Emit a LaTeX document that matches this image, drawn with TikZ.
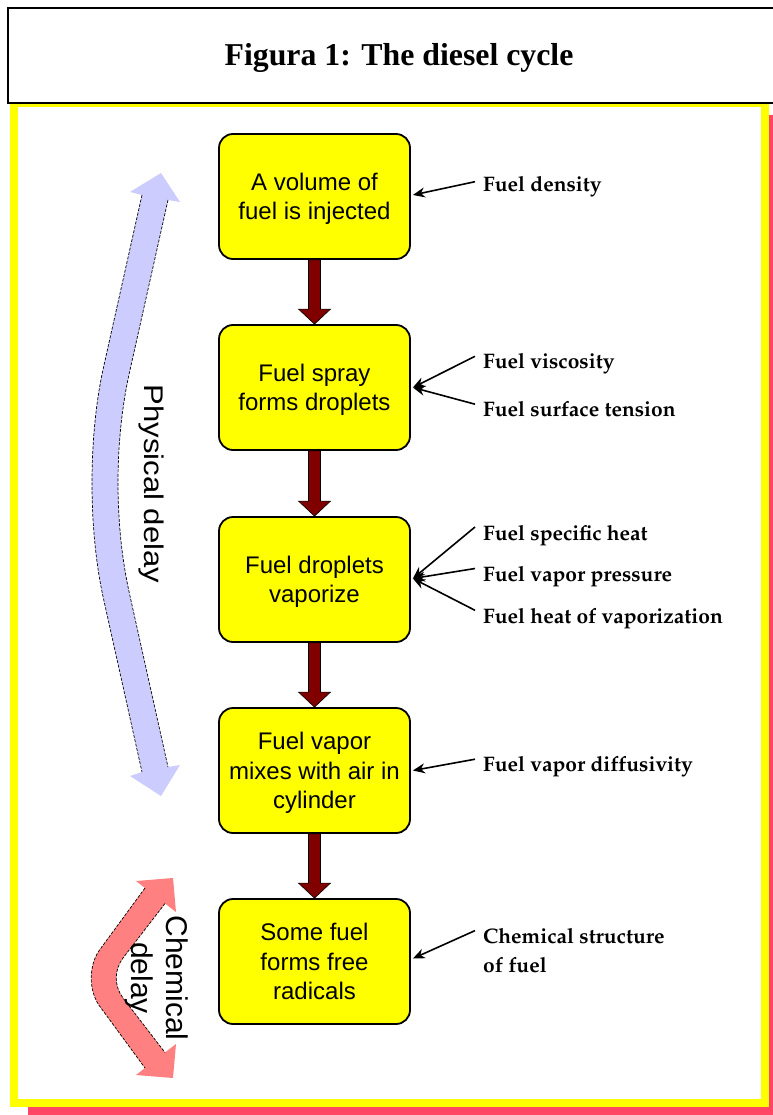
\documentclass[tikz,border=0pt]{standalone}
\usepackage[T1]{fontenc}
\usepackage{fontspec}
\usetikzlibrary{arrows.meta,calc}
\newfontfamily\titlefont{Liberation Serif}
\newfontfamily\boxfont{Liberation Sans}
\newcommand\lblfont{\fontencoding{T1}\fontfamily{ppl}\fontseries{b}\fontshape{n}\fontsize{21}{28.4}\selectfont}
\definecolor{boxyellow}{RGB}{255,255,0}
\definecolor{framered}{RGB}{255,70,100}
\definecolor{stepred}{RGB}{128,0,0}
\definecolor{physblue}{RGB}{204,204,255}
\definecolor{chempink}{RGB}{255,128,128}
\begin{document}
\begin{tikzpicture}[x=1pt,y=-1pt,
  stepbox/.style={draw=black, line width=1.8pt, fill=boxyellow, rounded corners=14pt,
    minimum width=191pt, minimum height=125pt, inner sep=0pt, align=center, text depth=0pt,
    font=\boxfont\fontsize{24}{29.5}\selectfont},
  factor/.style={anchor=base west, inner sep=0pt, align=left, font=\lblfont},
  infl/.style={-{Stealth[length=12pt,width=10pt]}, line width=1.6pt, black},
  flowarrow/.style={fill=stepred, draw=black, line width=0.6pt},
  edgeline/.style={draw=black, line width=0.7pt, dash pattern=on 3pt off 1.5pt}]
\useasboundingbox (0,0) rectangle (772,1115);

% frame with its drop shadow
\fill[framered] (28,115) rectangle (800,1125);
\fill[white] (10,99) rectangle (769,1107);
\draw[boxyellow, line width=8pt] (14,103) rectangle (765,1103);

% title bar
\draw[line width=2pt, fill=white] (8,8) rectangle (800,103);
\node[anchor=base, inner sep=0pt] (title) at (399,65.5)
  {\titlefont\bfseries\fontsize{31.8}{36}\selectfont Figura 1: The diesel cycle};

% process steps
\node[stepbox] (b1) at (314.5,196.5) {A volume of\\fuel is injected};
\node[stepbox] (b2) at (314.5,387.5) {Fuel spray\\forms droplets};
\node[stepbox] (b3) at (314.5,579.5) {Fuel droplets\\vaporize};
\node[stepbox] (b4) at (314.5,770.5) {Fuel vapor\\mixes with air in\\cylinder};
\node[stepbox] (b5) at (314.5,961.5) {Some fuel\\forms free\\radicals};

% block arrows between the steps
\foreach \a/\b in {b1/b2,b2/b3,b3/b4,b4/b5}{
  \filldraw[flowarrow] ($(\a.south)+(-6,0)$) -- ($(\b.north)+(-6,-15)$) -- ($(\b.north)+(-16,-15)$)
    -- (\b.north) -- ($(\b.north)+(16,-15)$) -- ($(\b.north)+(6,-15)$) -- ($(\a.south)+(6,0)$) -- cycle;
}

% fuel properties
\node[factor] (f1) at (483,191.7) {Fuel density};
\node[factor] (f2) at (483,368.3) {Fuel viscosity};
\node[factor] (f3) at (483,416.7) {Fuel surface tension};
\node[factor] (f4) at (483,540) {Fuel specific heat};
\node[factor] (f5) at (483,581) {Fuel vapor pressure};
\node[factor] (f6) at (483,623.3) {Fuel heat of vaporization};
\node[factor] (f7) at (483,771.7) {Fuel vapor diffusivity};
\node[factor, anchor=north west] (f8) at (483,928.6) {Chemical structure\\of fuel};

\draw[infl] ($(f1.base west)+(-8,-10)$) -- ($(b1.east)+(2,-1.5)$);
\draw[infl] ($(f2.base west)+(-8,-12)$) -- ($(b2.east)+(2,0)$);
\draw[infl] ($(f3.base west)+(-8,-12.5)$) -- ($(b2.east)+(2,0)$);
\draw[infl] ($(f4.base west)+(-8,-13)$) -- ($(b3.east)+(2,-1)$);
\draw[infl] ($(f5.base west)+(-8,-12.5)$) -- ($(b3.east)+(2,-1)$);
\draw[infl] ($(f6.base west)+(-8,-13)$) -- ($(b3.east)+(2,-1)$);
\draw[infl] ($(f7.base west)+(-8,-12.5)$) -- ($(b4.east)+(2,0)$);
\draw[infl] ($(f8.north west)+(-8,2)$) -- ($(b5.east)+(2,-3)$);

% physical delay: curved double arrow
\fill[physblue] (142,195) -- (130,192) -- (161,173) -- (180,202) -- (168,200)
  -- (130,370) .. controls (114,440) and (114,526) .. (130,596) -- (168,767)
  -- (180,765) -- (161,796) -- (130,776) -- (142,772)
  -- (104,601) .. controls (88,531) and (88,435) .. (104,365) -- cycle;
\draw[edgeline] (168,200) -- (130,370) .. controls (114,440) and (114,526) .. (130,596) -- (168,767);
\draw[edgeline] (142,195) -- (104,365) .. controls (88,435) and (88,531) .. (104,601) -- (142,772);
\node[rotate=-90, anchor=base, inner sep=0pt] (phys) at (144,484)
  {\scalebox{1.15}[1]{\boxfont\fontsize{27}{32}\selectfont Physical delay}};

% chemical delay: bent double arrow
\fill[chempink] (145,888) -- (136,881) -- (173,878) -- (176,912) -- (165,903.5)
  -- (123,958) .. controls (114,970) and (114,986) .. (123,998) -- (165,1052.5)
  -- (176,1044) -- (173,1078) -- (136,1075) -- (145,1068)
  -- (101,1008) .. controls (88,992) and (88,964) .. (101,948) -- cycle;
\draw[edgeline] (165,903.5) -- (123,958) .. controls (114,970) and (114,986) .. (123,998) -- (165,1052.5);
\draw[edgeline] (145,888) -- (101,948) .. controls (88,964) and (88,992) .. (101,1008) -- (145,1068);
\node[rotate=-90, anchor=north, align=center, inner sep=0pt,
  font=\boxfont\fontsize{30}{35}\selectfont] (chem) at (188.5,978) {Chemical\\delay};
\end{tikzpicture}
\end{document}
